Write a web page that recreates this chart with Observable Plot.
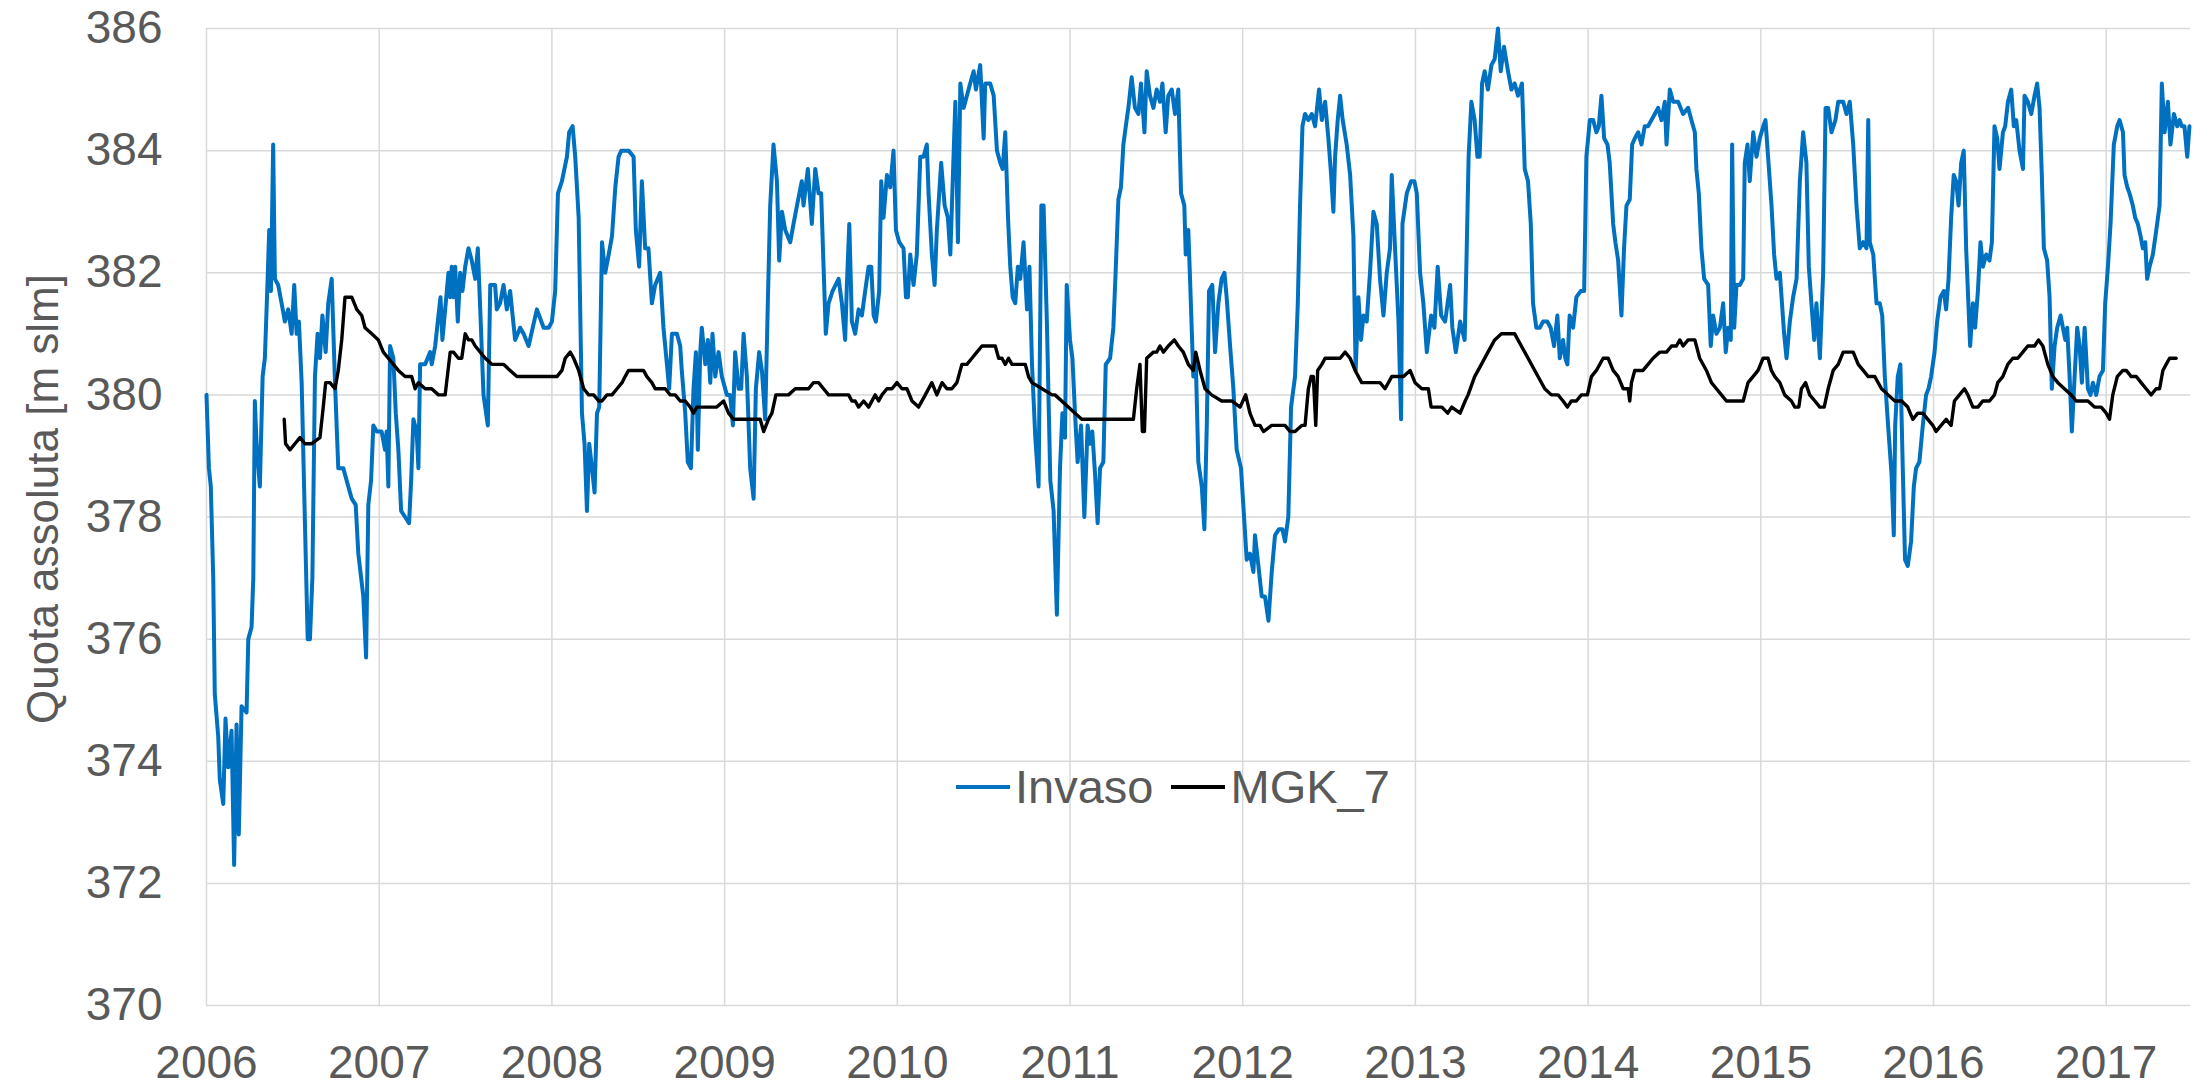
<!DOCTYPE html>
<html>
<head>
<meta charset="utf-8">
<script src="https://cdn.jsdelivr.net/npm/d3@7"></script>
<script src="https://cdn.jsdelivr.net/npm/@observablehq/plot@0.6"></script>
<style>
html,body{margin:0;padding:0;background:#fff;}
#wrap{position:relative;width:2194px;height:1086px;font-family:"Liberation Sans",Arial,sans-serif;color:#595959;}
#wrap svg{display:block;}
#ytitle{position:absolute;left:43px;top:499px;transform:translate(-50%,-50%) rotate(-90deg);font-size:44px;white-space:nowrap;}
#legend{position:absolute;left:956px;top:760px;display:flex;align-items:center;font-size:47px;white-space:nowrap;line-height:54px;}
#legend .sw{display:inline-block;width:54px;height:4px;margin-right:5px;}
#legend .gap{display:inline-block;width:18px;}
</style>
</head>
<body>
<div id="wrap">
  <div id="chart"></div>
  <div id="ytitle">Quota assoluta [m slm]</div>
  <div id="legend"></div>
</div>
<script>
// Series names and colours
const seriesNames = ["Invaso", "MGK_7"];
const seriesColors = ["#0070c0", "#000000"];

// Axis ticks
const yearTicks = [2006, 2007, 2008, 2009, 2010, 2011, 2012, 2013, 2014, 2015, 2016, 2017];
const levelTicks = [370, 372, 374, 376, 378, 380, 382, 384, 386];

// Invaso: [decimal year, level m slm]
const invaso = [
[2006.000,380.0],[2006.014,378.8],[2006.025,378.5],[2006.039,377.0],[2006.048,375.1],[2006.068,374.4],[2006.077,373.7],[2006.097,373.3],[2006.110,374.7],[2006.126,373.9],[2006.145,374.5],[2006.160,372.3],[2006.174,374.6],[2006.187,372.8],[2006.203,374.9],[2006.232,374.8],[2006.242,376.0],[2006.261,376.2],[2006.271,377.0],[2006.280,379.9],[2006.290,379.2],[2006.309,378.5],[2006.325,380.3],[2006.338,380.6],[2006.354,381.9],[2006.363,382.7],[2006.373,381.7],[2006.386,384.1],[2006.396,381.9],[2006.415,381.8],[2006.435,381.5],[2006.454,381.2],[2006.473,381.4],[2006.493,381.0],[2006.508,381.8],[2006.522,381.0],[2006.535,381.2],[2006.551,380.2],[2006.570,377.9],[2006.586,376.0],[2006.599,376.0],[2006.613,377.0],[2006.628,380.3],[2006.643,381.0],[2006.657,380.6],[2006.671,381.3],[2006.690,380.7],[2006.705,381.5],[2006.725,381.9],[2006.744,380.2],[2006.763,378.8],[2006.792,378.8],[2006.821,378.5],[2006.841,378.3],[2006.864,378.2],[2006.879,377.4],[2006.908,376.7],[2006.924,375.7],[2006.937,378.2],[2006.953,378.6],[2006.966,379.5],[2006.986,379.4],
[2007.014,379.4],[2007.034,379.1],[2007.043,379.4],[2007.053,378.5],[2007.063,380.8],[2007.082,380.6],[2007.096,379.7],[2007.111,379.1],[2007.127,378.1],[2007.150,378.0],[2007.173,377.9],[2007.185,378.6],[2007.198,379.6],[2007.217,379.4],[2007.227,378.8],[2007.237,380.5],[2007.266,380.5],[2007.295,380.7],[2007.304,380.5],[2007.324,380.8],[2007.343,381.3],[2007.355,381.6],[2007.366,380.9],[2007.382,381.4],[2007.401,382.0],[2007.411,381.6],[2007.420,382.1],[2007.430,381.6],[2007.440,382.1],[2007.455,381.2],[2007.469,382.0],[2007.482,381.7],[2007.498,382.1],[2007.517,382.4],[2007.536,382.2],[2007.556,381.9],[2007.571,382.4],[2007.585,381.4],[2007.604,380.0],[2007.629,379.5],[2007.643,381.8],[2007.671,381.8],[2007.681,381.4],[2007.700,381.5],[2007.720,381.8],[2007.739,381.4],[2007.758,381.7],[2007.787,380.9],[2007.816,381.1],[2007.836,381.0],[2007.865,380.8],[2007.913,381.4],[2007.952,381.1],[2007.981,381.1],
[2008.000,381.2],[2008.019,381.7],[2008.035,383.3],[2008.058,383.5],[2008.087,383.9],[2008.100,384.3],[2008.120,384.4],[2008.135,383.9],[2008.155,382.9],[2008.174,379.7],[2008.189,379.2],[2008.203,378.1],[2008.216,379.2],[2008.232,378.8],[2008.247,378.4],[2008.261,379.7],[2008.274,379.8],[2008.290,382.5],[2008.309,382.0],[2008.329,382.3],[2008.348,382.6],[2008.367,383.4],[2008.386,383.9],[2008.402,384.0],[2008.444,384.0],[2008.473,383.9],[2008.486,382.7],[2008.505,382.1],[2008.521,383.5],[2008.540,382.4],[2008.559,382.4],[2008.579,381.5],[2008.598,381.8],[2008.627,382.0],[2008.646,381.1],[2008.666,380.5],[2008.679,380.1],[2008.695,381.0],[2008.724,381.0],[2008.743,380.8],[2008.752,380.4],[2008.772,379.7],[2008.787,378.9],[2008.805,378.8],[2008.820,380.1],[2008.834,380.7],[2008.845,379.1],[2008.859,380.7],[2008.868,381.1],[2008.888,380.5],[2008.903,380.9],[2008.917,380.2],[2008.930,381.0],[2008.946,380.3],[2008.965,380.7],[2008.984,380.3],
[2009.013,380.0],[2009.032,380.0],[2009.048,379.5],[2009.061,380.7],[2009.081,380.1],[2009.096,380.1],[2009.110,381.0],[2009.129,380.3],[2009.148,378.8],[2009.168,378.3],[2009.181,380.1],[2009.200,380.7],[2009.216,380.4],[2009.235,379.6],[2009.251,381.6],[2009.264,383.1],[2009.283,384.1],[2009.303,383.5],[2009.316,382.2],[2009.332,383.0],[2009.351,382.7],[2009.380,382.5],[2009.399,382.8],[2009.419,383.1],[2009.447,383.5],[2009.457,383.1],[2009.482,383.7],[2009.505,382.8],[2009.525,383.7],[2009.544,383.3],[2009.559,383.3],[2009.573,382.1],[2009.586,381.0],[2009.602,381.5],[2009.625,381.7],[2009.660,381.9],[2009.679,381.5],[2009.698,380.9],[2009.708,381.8],[2009.722,382.8],[2009.737,381.2],[2009.756,381.0],[2009.776,381.4],[2009.795,381.3],[2009.814,381.7],[2009.834,382.1],[2009.849,382.1],[2009.863,381.3],[2009.876,381.2],[2009.895,381.7],[2009.907,383.5],[2009.920,382.9],[2009.940,383.6],[2009.959,383.4],[2009.978,384.0],[2009.992,382.7],
[2010.011,382.5],[2010.036,382.4],[2010.050,381.6],[2010.061,381.6],[2010.075,382.3],[2010.094,381.8],[2010.113,382.3],[2010.133,383.9],[2010.152,383.9],[2010.171,384.1],[2010.181,383.3],[2010.200,382.3],[2010.216,381.8],[2010.229,382.7],[2010.254,383.8],[2010.274,383.1],[2010.293,382.9],[2010.307,382.3],[2010.322,383.6],[2010.336,384.8],[2010.351,382.5],[2010.365,385.1],[2010.384,384.7],[2010.403,384.9],[2010.422,385.1],[2010.442,385.3],[2010.455,385.0],[2010.480,385.4],[2010.500,384.2],[2010.509,385.1],[2010.538,385.1],[2010.558,384.9],[2010.577,384.0],[2010.596,383.8],[2010.610,383.7],[2010.625,384.3],[2010.641,382.9],[2010.654,382.1],[2010.668,381.6],[2010.683,381.5],[2010.698,382.1],[2010.712,381.9],[2010.731,382.5],[2010.751,381.4],[2010.765,382.1],[2010.780,380.5],[2010.799,379.3],[2010.818,378.5],[2010.834,383.1],[2010.847,383.1],[2010.866,381.2],[2010.886,378.6],[2010.905,378.1],[2010.924,376.4],[2010.942,378.8],[2010.956,379.7],[2010.971,379.3],[2010.981,381.8],
[2011.000,380.9],[2011.014,380.6],[2011.029,379.7],[2011.044,378.9],[2011.064,379.5],[2011.083,378.0],[2011.102,379.5],[2011.116,379.2],[2011.129,379.4],[2011.145,378.7],[2011.160,377.9],[2011.174,378.8],[2011.193,378.9],[2011.207,380.5],[2011.232,380.6],[2011.251,381.1],[2011.264,382.0],[2011.280,383.2],[2011.295,383.4],[2011.309,384.1],[2011.328,384.5],[2011.338,384.7],[2011.357,385.2],[2011.376,384.7],[2011.396,384.6],[2011.411,385.1],[2011.431,384.3],[2011.444,385.3],[2011.463,384.9],[2011.483,384.7],[2011.502,385.0],[2011.521,384.8],[2011.535,385.1],[2011.554,384.3],[2011.569,384.9],[2011.589,385.0],[2011.608,384.6],[2011.627,385.0],[2011.643,383.3],[2011.662,383.1],[2011.670,382.3],[2011.685,382.7],[2011.695,381.9],[2011.714,380.3],[2011.728,380.6],[2011.743,378.9],[2011.763,378.5],[2011.778,377.8],[2011.792,379.5],[2011.805,381.7],[2011.824,381.8],[2011.840,380.7],[2011.859,381.5],[2011.878,381.9],[2011.894,382.0],[2011.907,381.6],[2011.927,380.8],[2011.946,380.1],[2011.965,379.1],[2011.990,378.8],
[2012.010,377.9],[2012.023,377.3],[2012.042,377.4],[2012.062,377.1],[2012.071,377.7],[2012.091,377.2],[2012.110,376.7],[2012.129,376.7],[2012.149,376.3],[2012.168,377.1],[2012.187,377.7],[2012.210,377.8],[2012.230,377.8],[2012.245,377.6],[2012.264,378.0],[2012.280,379.8],[2012.303,380.3],[2012.319,381.5],[2012.332,383.1],[2012.346,384.4],[2012.361,384.6],[2012.380,384.5],[2012.400,384.6],[2012.419,384.4],[2012.442,385.0],[2012.458,384.5],[2012.477,384.8],[2012.496,384.2],[2012.512,383.6],[2012.525,383.0],[2012.535,383.9],[2012.550,384.5],[2012.564,384.9],[2012.579,384.5],[2012.602,384.1],[2012.622,383.6],[2012.641,382.6],[2012.654,380.4],[2012.670,381.6],[2012.685,380.9],[2012.699,381.3],[2012.718,381.2],[2012.737,382.0],[2012.757,383.0],[2012.776,382.8],[2012.795,381.9],[2012.815,381.3],[2012.834,382.0],[2012.853,382.4],[2012.863,383.6],[2012.882,382.4],[2012.902,381.2],[2012.917,379.6],[2012.925,382.8],[2012.950,383.3],[2012.975,383.5],[2012.994,383.5],
[2013.008,383.3],[2013.027,382.0],[2013.046,381.5],[2013.066,380.7],[2013.091,381.3],[2013.110,381.1],[2013.129,382.1],[2013.149,381.3],[2013.172,381.2],[2013.201,381.8],[2013.214,381.1],[2013.234,380.7],[2013.259,381.2],[2013.285,380.9],[2013.295,382.1],[2013.308,383.9],[2013.324,384.8],[2013.343,384.5],[2013.359,383.9],[2013.372,383.9],[2013.386,385.1],[2013.401,385.3],[2013.420,385.0],[2013.440,385.4],[2013.459,385.5],[2013.478,386.0],[2013.494,385.3],[2013.513,385.7],[2013.536,385.3],[2013.556,385.0],[2013.575,385.1],[2013.594,384.9],[2013.617,385.1],[2013.633,383.7],[2013.652,383.5],[2013.668,382.8],[2013.681,381.5],[2013.700,381.1],[2013.720,381.1],[2013.739,381.2],[2013.764,381.2],[2013.783,381.1],[2013.803,380.8],[2013.822,381.3],[2013.836,380.6],[2013.855,380.9],[2013.868,380.6],[2013.880,380.5],[2013.893,381.3],[2013.913,381.1],[2013.932,381.6],[2013.957,381.7],[2013.977,381.7],[2013.990,383.9],
[2014.010,384.5],[2014.029,384.5],[2014.048,384.3],[2014.062,384.4],[2014.077,384.9],[2014.093,384.2],[2014.112,384.1],[2014.125,383.8],[2014.145,382.8],[2014.158,382.5],[2014.174,382.2],[2014.193,381.3],[2014.208,382.4],[2014.222,383.1],[2014.241,383.2],[2014.255,384.1],[2014.270,384.2],[2014.290,384.3],[2014.309,384.1],[2014.328,384.4],[2014.347,384.4],[2014.367,384.5],[2014.386,384.6],[2014.405,384.7],[2014.425,384.5],[2014.444,384.8],[2014.454,384.1],[2014.473,385.0],[2014.492,384.8],[2014.521,384.8],[2014.550,384.6],[2014.579,384.7],[2014.598,384.5],[2014.618,384.3],[2014.627,383.7],[2014.641,383.3],[2014.656,382.4],[2014.672,381.9],[2014.695,381.8],[2014.710,380.8],[2014.724,381.3],[2014.743,381.0],[2014.763,381.1],[2014.782,381.5],[2014.797,380.7],[2014.811,381.1],[2014.826,380.9],[2014.834,384.1],[2014.846,381.1],[2014.859,381.8],[2014.878,381.8],[2014.898,381.9],[2014.907,383.8],[2014.923,384.1],[2014.936,383.5],[2014.956,384.3],[2014.975,383.9],[2014.994,384.2],
[2015.014,384.4],[2015.027,384.5],[2015.042,383.9],[2015.062,383.1],[2015.077,382.3],[2015.091,381.9],[2015.110,382.0],[2015.120,381.6],[2015.135,381.0],[2015.149,380.6],[2015.168,381.2],[2015.187,381.6],[2015.207,381.9],[2015.226,383.5],[2015.245,384.3],[2015.264,383.8],[2015.278,382.1],[2015.293,381.5],[2015.309,380.9],[2015.322,381.5],[2015.342,380.6],[2015.361,382.0],[2015.375,384.7],[2015.390,384.7],[2015.409,384.3],[2015.432,384.5],[2015.448,384.8],[2015.477,384.8],[2015.496,384.6],[2015.515,384.8],[2015.535,384.1],[2015.554,383.1],[2015.573,382.4],[2015.593,382.5],[2015.612,382.4],[2015.622,384.5],[2015.631,382.5],[2015.651,382.3],[2015.670,381.5],[2015.689,381.5],[2015.703,381.3],[2015.718,380.3],[2015.737,379.5],[2015.757,378.7],[2015.770,377.7],[2015.778,379.5],[2015.793,380.3],[2015.808,380.5],[2015.822,378.8],[2015.835,377.3],[2015.851,377.2],[2015.870,377.6],[2015.886,378.5],[2015.899,378.8],[2015.918,378.9],[2015.938,379.5],[2015.957,380.0],[2015.971,380.1],[2015.986,380.3],
[2016.006,380.7],[2016.021,381.2],[2016.040,381.6],[2016.060,381.7],[2016.073,381.4],[2016.087,381.9],[2016.102,382.9],[2016.117,383.6],[2016.131,383.5],[2016.145,383.1],[2016.160,383.8],[2016.175,384.0],[2016.189,382.4],[2016.199,381.7],[2016.212,380.8],[2016.228,381.5],[2016.241,381.1],[2016.257,381.7],[2016.272,382.5],[2016.286,382.1],[2016.305,382.3],[2016.324,382.2],[2016.338,382.5],[2016.353,384.4],[2016.369,384.2],[2016.382,383.7],[2016.402,384.3],[2016.415,384.4],[2016.431,384.8],[2016.450,385.0],[2016.465,384.4],[2016.479,384.5],[2016.498,384.0],[2016.518,383.7],[2016.527,384.9],[2016.546,384.8],[2016.566,384.6],[2016.585,384.9],[2016.600,385.1],[2016.614,384.7],[2016.627,383.6],[2016.639,382.4],[2016.658,382.2],[2016.672,381.6],[2016.685,380.1],[2016.701,380.8],[2016.716,381.1],[2016.736,381.3],[2016.749,381.1],[2016.763,380.9],[2016.774,381.1],[2016.788,380.3],[2016.801,379.4],[2016.817,380.3],[2016.832,381.1],[2016.846,380.8],[2016.859,380.2],[2016.875,381.1],[2016.894,380.1],[2016.909,380.0],[2016.923,380.2],[2016.942,380.0],[2016.961,380.3],[2016.981,380.4],[2016.994,381.5],
[2017.010,382.1],[2017.025,382.8],[2017.044,384.1],[2017.064,384.4],[2017.077,384.5],[2017.097,384.3],[2017.106,383.6],[2017.122,383.4],[2017.135,383.3],[2017.154,383.1],[2017.168,382.9],[2017.183,382.8],[2017.199,382.6],[2017.212,382.4],[2017.226,382.5],[2017.237,381.9],[2017.251,382.1],[2017.270,382.3],[2017.290,382.7],[2017.309,383.1],[2017.322,385.1],[2017.338,384.3],[2017.357,384.8],[2017.372,384.1],[2017.392,384.6],[2017.411,384.4],[2017.425,384.5],[2017.438,384.4],[2017.453,384.4],[2017.469,383.9],[2017.482,384.4]
];

// MGK_7: [decimal year, level m slm]
const mgk7 = [
[2006.450,379.6],[2006.458,379.2],[2006.483,379.1],[2006.512,379.2],[2006.541,379.3],[2006.570,379.2],[2006.609,379.2],[2006.657,379.3],[2006.676,379.8],[2006.690,380.2],[2006.715,380.2],[2006.744,380.1],[2006.763,380.4],[2006.783,380.9],[2006.802,381.6],[2006.812,381.6],[2006.841,381.6],[2006.870,381.4],[2006.899,381.3],[2006.918,381.1],[2006.957,381.0],[2006.995,380.9],
[2007.024,380.7],[2007.053,380.6],[2007.082,380.5],[2007.111,380.4],[2007.150,380.3],[2007.188,380.3],[2007.208,380.1],[2007.227,380.2],[2007.266,380.1],[2007.304,380.1],[2007.343,380.0],[2007.382,380.0],[2007.411,380.7],[2007.430,380.7],[2007.459,380.6],[2007.478,380.6],[2007.498,381.0],[2007.517,380.9],[2007.536,380.9],[2007.556,380.8],[2007.585,380.7],[2007.614,380.6],[2007.652,380.5],[2007.691,380.5],[2007.720,380.5],[2007.758,380.4],[2007.797,380.3],[2007.826,380.3],[2007.855,380.3],[2007.884,380.3],[2007.923,380.3],[2007.961,380.3],
[2008.000,380.3],[2008.029,380.3],[2008.058,380.4],[2008.077,380.6],[2008.106,380.7],[2008.126,380.6],[2008.155,380.4],[2008.184,380.1],[2008.213,380.0],[2008.242,380.0],[2008.271,379.9],[2008.290,379.9],[2008.319,380.0],[2008.348,380.0],[2008.377,380.1],[2008.406,380.2],[2008.424,380.3],[2008.444,380.4],[2008.492,380.4],[2008.530,380.4],[2008.550,380.3],[2008.579,380.2],[2008.598,380.1],[2008.627,380.1],[2008.656,380.1],[2008.685,380.0],[2008.714,380.0],[2008.743,379.9],[2008.772,379.9],[2008.801,379.8],[2008.820,379.7],[2008.839,379.8],[2008.878,379.8],[2008.917,379.8],[2008.955,379.8],[2008.994,379.9],
[2009.023,379.7],[2009.052,379.6],[2009.081,379.6],[2009.119,379.6],[2009.158,379.6],[2009.187,379.6],[2009.206,379.6],[2009.226,379.4],[2009.254,379.6],[2009.274,379.7],[2009.297,380.0],[2009.332,380.0],[2009.370,380.0],[2009.409,380.1],[2009.447,380.1],[2009.486,380.1],[2009.515,380.2],[2009.544,380.2],[2009.573,380.1],[2009.602,380.0],[2009.641,380.0],[2009.689,380.0],[2009.718,380.0],[2009.737,379.9],[2009.756,379.9],[2009.776,379.8],[2009.805,379.9],[2009.834,379.8],[2009.872,380.0],[2009.892,379.9],[2009.911,380.0],[2009.940,380.1],[2009.969,380.1],[2009.998,380.2],
[2010.027,380.1],[2010.056,380.1],[2010.085,379.9],[2010.123,379.8],[2010.162,380.0],[2010.200,380.2],[2010.229,380.0],[2010.259,380.2],[2010.287,380.1],[2010.316,380.1],[2010.345,380.2],[2010.374,380.5],[2010.403,380.5],[2010.432,380.6],[2010.461,380.7],[2010.490,380.8],[2010.529,380.8],[2010.548,380.8],[2010.567,380.8],[2010.587,380.6],[2010.606,380.6],[2010.625,380.5],[2010.644,380.6],[2010.664,380.5],[2010.702,380.5],[2010.741,380.5],[2010.760,380.3],[2010.780,380.2],[2010.838,380.1],[2010.896,380.0],[2010.913,380.0],[2010.990,379.8],
[2011.029,379.7],[2011.068,379.6],[2011.106,379.6],[2011.154,379.6],[2011.212,379.6],[2011.261,379.6],[2011.309,379.6],[2011.367,379.6],[2011.386,380.1],[2011.405,380.5],[2011.419,379.4],[2011.431,379.4],[2011.444,380.6],[2011.483,380.7],[2011.502,380.7],[2011.521,380.8],[2011.541,380.7],[2011.569,380.8],[2011.604,380.9],[2011.627,380.8],[2011.656,380.7],[2011.685,380.5],[2011.714,380.4],[2011.728,380.7],[2011.753,380.4],[2011.782,380.1],[2011.820,380.0],[2011.878,379.9],[2011.936,379.9],[2011.985,379.8],
[2012.017,380.0],[2012.042,379.7],[2012.071,379.5],[2012.100,379.5],[2012.120,379.4],[2012.168,379.5],[2012.207,379.5],[2012.245,379.5],[2012.274,379.4],[2012.303,379.4],[2012.342,379.5],[2012.361,379.5],[2012.380,380.1],[2012.396,380.3],[2012.409,380.3],[2012.423,379.5],[2012.434,380.4],[2012.458,380.5],[2012.477,380.6],[2012.506,380.6],[2012.535,380.6],[2012.564,380.6],[2012.593,380.7],[2012.622,380.6],[2012.651,380.4],[2012.689,380.2],[2012.728,380.2],[2012.766,380.2],[2012.795,380.2],[2012.824,380.1],[2012.863,380.3],[2012.902,380.3],[2012.931,380.3],[2012.969,380.4],[2012.998,380.2],
[2013.037,380.1],[2013.075,380.1],[2013.091,379.8],[2013.124,379.8],[2013.153,379.8],[2013.187,379.7],[2013.210,379.8],[2013.259,379.7],[2013.288,379.9],[2013.305,380.0],[2013.343,380.3],[2013.382,380.5],[2013.420,380.7],[2013.459,380.9],[2013.498,381.0],[2013.536,381.0],[2013.575,381.0],[2013.633,380.7],[2013.691,380.4],[2013.749,380.1],[2013.787,380.0],[2013.826,380.0],[2013.855,379.9],[2013.880,379.8],[2013.903,379.9],[2013.932,379.9],[2013.961,380.0],[2013.996,380.0],
[2014.019,380.3],[2014.048,380.4],[2014.087,380.6],[2014.116,380.6],[2014.145,380.4],[2014.174,380.3],[2014.203,380.1],[2014.232,380.1],[2014.241,379.9],[2014.251,380.2],[2014.270,380.4],[2014.318,380.4],[2014.347,380.5],[2014.376,380.6],[2014.415,380.7],[2014.454,380.7],[2014.483,380.8],[2014.511,380.8],[2014.531,380.9],[2014.550,380.8],[2014.579,380.9],[2014.618,380.9],[2014.646,380.6],[2014.685,380.4],[2014.714,380.2],[2014.743,380.1],[2014.772,380.0],[2014.801,379.9],[2014.830,379.9],[2014.859,379.9],[2014.898,379.9],[2014.926,380.2],[2014.955,380.3],[2014.984,380.4],
[2015.013,380.6],[2015.042,380.6],[2015.061,380.4],[2015.081,380.3],[2015.110,380.2],[2015.138,380.0],[2015.177,379.9],[2015.197,379.8],[2015.220,379.8],[2015.235,380.1],[2015.259,380.2],[2015.283,380.0],[2015.313,379.9],[2015.342,379.8],[2015.367,379.8],[2015.390,380.1],[2015.419,380.4],[2015.448,380.5],[2015.477,380.7],[2015.506,380.7],[2015.535,380.7],[2015.564,380.5],[2015.593,380.4],[2015.622,380.3],[2015.660,380.3],[2015.699,380.1],[2015.737,380.0],[2015.776,379.9],[2015.815,379.9],[2015.851,379.8],[2015.880,379.6],[2015.909,379.7],[2015.938,379.7],[2015.967,379.6],[2015.996,379.5],
[2016.015,379.4],[2016.044,379.5],[2016.073,379.6],[2016.102,379.5],[2016.121,379.9],[2016.150,380.0],[2016.179,380.1],[2016.199,380.0],[2016.228,379.8],[2016.257,379.8],[2016.285,379.9],[2016.324,379.9],[2016.353,380.0],[2016.372,380.2],[2016.401,380.3],[2016.430,380.5],[2016.459,380.6],[2016.488,380.6],[2016.517,380.7],[2016.546,380.8],[2016.585,380.8],[2016.608,380.9],[2016.633,380.8],[2016.662,380.5],[2016.691,380.3],[2016.720,380.2],[2016.758,380.1],[2016.797,380.0],[2016.826,379.9],[2016.855,379.9],[2016.894,379.9],[2016.932,379.8],[2016.971,379.8],
[2017.000,379.7],[2017.019,379.6],[2017.038,380.0],[2017.064,380.3],[2017.096,380.4],[2017.116,380.4],[2017.145,380.3],[2017.174,380.3],[2017.202,380.2],[2017.231,380.1],[2017.260,380.0],[2017.289,380.1],[2017.309,380.1],[2017.328,380.4],[2017.347,380.5],[2017.367,380.6],[2017.386,380.6],[2017.405,380.6]
];

const xDomain = [2006, 2017.488];
const yDomain = [370, 386];

const chart = Plot.plot({
  width: 2194,
  height: 1086,
  marginLeft: 206,
  marginRight: 4,
  marginTop: 28,
  marginBottom: 81,
  style: {fontFamily: "'Liberation Sans', Arial, sans-serif", fontSize: "46px", color: "#595959", background: "#ffffff", overflow: "visible"},
  x: {type: "linear", domain: xDomain, ticks: yearTicks, tickFormat: d => String(d), tickSize: 0, tickPadding: 40, label: null},
  y: {domain: yDomain, ticks: levelTicks, tickFormat: d => String(d), tickSize: 0, tickPadding: 44, label: null},
  marks: [
    Plot.ruleX(yearTicks, {x: d => d, stroke: "#d9d9d9", strokeWidth: 1.5}),
    Plot.ruleY(levelTicks, {y: d => d, stroke: "#d9d9d9", strokeWidth: 1.5}),
    Plot.line(invaso, {x: d => d[0], y: d => d[1], stroke: seriesColors[0], strokeWidth: 4, strokeLinejoin: "round", strokeLinecap: "round"}),
    Plot.line(mgk7, {x: d => d[0], y: d => d[1], stroke: seriesColors[1], strokeWidth: 3.4, strokeLinejoin: "round", strokeLinecap: "round"})
  ]
});
document.getElementById("chart").appendChild(chart);

// Legend
const legend = d3.select("#legend");
seriesNames.forEach((name, i) => {
  if (i > 0) legend.append("span").attr("class", "gap");
  legend.append("span").attr("class", "sw").style("background", seriesColors[i]);
  legend.append("span").text(name);
});
</script>
</body>
</html>
